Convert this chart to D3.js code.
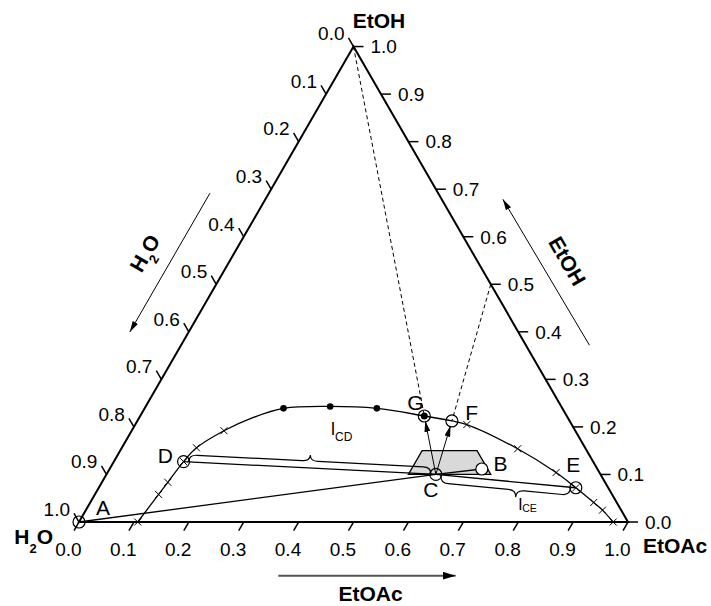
<!DOCTYPE html>
<html>
<head>
<meta charset="utf-8">
<script src="https://cdn.jsdelivr.net/npm/d3@7"></script>
<style>
body { margin: 0; background: #fff; }
text { font-family: "Liberation Sans", Arial, sans-serif; fill: #000; }
</style>
</head>
<body>
<svg id="chart" width="711" height="606"></svg>
<script>
// compositions are [EtOAc, EtOH], H2O = 1 - EtOAc - EtOH
const tickValues = [0, 0.1, 0.2, 0.3, 0.4, 0.5, 0.6, 0.7, 0.8, 0.9, 1.0];
const tickLabels = ["0.0", "0.1", "0.2", "0.3", "0.4", "0.5", "0.6", "0.7", "0.8", "0.9", "1.0"];

const binodalEtOAc = [0.107, 0.116, 0.120, 0.127, 0.136, 0.168, 0.206, 0.253, 0.336, 0.423, 0.5175, 0.573, 0.604, 0.722, 0.817, 0.869, 0.917, 0.941, 0.973];
const binodalEtOH  = [0, 0.058, 0.0835, 0.127, 0.156, 0.192, 0.219, 0.239, 0.243, 0.239, 0.223, 0.2125, 0.205, 0.154, 0.104, 0.072, 0.041, 0.025, 0];

const crossEtOAc = [0.107, 0.116, 0.120, 0.127, 0.136, 0.168, 0.604, 0.722, 0.817, 0.869, 0.917, 0.941, 0.973];
const crossEtOH  = [0, 0.058, 0.0835, 0.127, 0.156, 0.192, 0.205, 0.154, 0.104, 0.072, 0.041, 0.025, 0];

const dotEtOAc = [0.253, 0.336, 0.423];
const dotEtOH  = [0.239, 0.243, 0.239];

const pointNames = ["A", "B", "C", "D", "E", "F", "G"];
const pointEtOAc = [0, 0.678, 0.60, 0.127, 0.869, 0.573, 0.5175];
const pointEtOH  = [0, 0.1115, 0.10, 0.127, 0.072, 0.2125, 0.223];

const trapEtOAc = [0.55, 0.70, 0.65, 0.55];
const trapEtOH  = [0.10, 0.10, 0.15, 0.15];

const tieLines = [["A", "C"], ["D", "C"], ["C", "B"], ["C", "E"]];
const arrowLines = [["C", "G"], ["C", "F"]];
const dashFromEtOAc = [0, 0.5];
const dashFromEtOH  = [1, 0.5];
const dashTo = ["G", "F"];

const svg = d3.select("#chart");
const side = 549, x0 = 79, y0 = 522;
const xScale = d3.scaleLinear().domain([0, 1]).range([x0, x0 + side]);
const yScale = d3.scaleLinear().domain([0, 1]).range([y0, y0 - side * Math.sqrt(3) / 2]);
const proj = (a, e) => [xScale(a + e / 2), yScale(e)];
const pt = {};
pointNames.forEach((n, i) => pt[n] = proj(pointEtOAc[i], pointEtOH[i]));

const defs = svg.append("defs");
function marker(id, len, wid, color) {
    defs.append("marker")
        .attr("id", id)
        .attr("viewBox", `0 0 ${len} ${wid}`)
        .attr("refX", len).attr("refY", wid / 2)
        .attr("markerWidth", len).attr("markerHeight", wid)
        .attr("markerUnits", "userSpaceOnUse")
        .attr("orient", "auto")
        .append("path")
        .attr("d", `M0,0L${len},${wid / 2}L0,${wid}Z`)
        .attr("fill", color);
}
marker("head", 11, 6, "#000");
marker("headBig", 13, 8, "#000");

// shaded region
svg.append("path")
    .attr("d", d3.line()(trapEtOAc.map((a, i) => proj(a, trapEtOH[i]))) + "Z")
    .attr("fill", "#d9d9d9")
    .attr("stroke", "#000")
    .attr("stroke-width", 1.3);

// triangle
svg.append("path")
    .attr("d", d3.line()([proj(0, 0), proj(1, 0), proj(0, 1)]) + "Z")
    .attr("fill", "none")
    .attr("stroke", "#000")
    .attr("stroke-width", 2)
    .attr("stroke-linejoin", "miter");

const tickG = svg.append("g").attr("stroke", "#000").attr("stroke-width", 1.5);
const labelG = svg.append("g").attr("font-size", 19);

tickValues.forEach((v, i) => {
    // bottom (EtOAc)
    let s = proj(v, 0), e = [s[0] - 5, s[1] + 8.66];
    tickG.append("line").attr("x1", s[0]).attr("y1", s[1]).attr("x2", e[0]).attr("y2", e[1]);
    labelG.append("text").attr("x", e[0] - 5.6).attr("y", e[1] + 25.3)
        .attr("text-anchor", "middle").text(tickLabels[i]);
    // left (H2O)
    s = proj(0, 1 - v); e = [s[0] - 5, s[1] - 8.66];
    tickG.append("line").attr("x1", s[0]).attr("y1", s[1]).attr("x2", e[0]).attr("y2", e[1]);
    labelG.append("text").attr("x", e[0] - 4).attr("y", e[1] + 2.5)
        .attr("text-anchor", "end").text(tickLabels[i]);
    // right (EtOH)
    s = proj(1 - v, v); e = [s[0] + 10, s[1]];
    tickG.append("line").attr("x1", s[0]).attr("y1", s[1]).attr("x2", e[0]).attr("y2", e[1]);
    labelG.append("text").attr("x", e[0] + 7).attr("y", e[1] + 6.8)
        .attr("text-anchor", "start").text(tickLabels[i]);
});

// corner titles
const vTop = proj(0, 1), vLeft = proj(0, 0), vRight = proj(1, 0);
svg.append("text").attr("x", vTop[0] + 25.5).attr("y", vTop[1] - 18.5)
    .attr("text-anchor", "middle").attr("font-size", 21).attr("font-weight", "bold").text("EtOH");
svg.append("text").attr("x", vRight[0] + 15).attr("y", vRight[1] + 31)
    .attr("font-size", 21).attr("font-weight", "bold").text("EtOAc");
const h2o = svg.append("text").attr("x", vLeft[0] - 26).attr("y", vLeft[1] + 21.5)
    .attr("text-anchor", "end").attr("font-size", 21).attr("font-weight", "bold");
h2o.append("tspan").text("H");
h2o.append("tspan").attr("font-size", 13).attr("dy", 9.5).text("2");
h2o.append("tspan").attr("dy", -9.5).text("O");

// side arrows + titles
const lN = [-Math.sqrt(3) / 2, -0.5], rN = [Math.sqrt(3) / 2, -0.5];
const onLeft = (s, off) => { const p = proj(0, s); return [p[0] + lN[0] * off, p[1] + lN[1] * off]; };
const onRight = (s, off) => { const p = proj(1 - s, s); return [p[0] + rN[0] * off, p[1] + rN[1] * off]; };

let a0 = onLeft(0.638, 51), a1 = onLeft(0.346, 51);
svg.append("line").attr("x1", a0[0]).attr("y1", a0[1]).attr("x2", a1[0]).attr("y2", a1[1])
    .attr("stroke", "#000").attr("stroke-width", 1).attr("marker-end", "url(#head)");
let tp = onLeft(0.484, 70);
const h2oL = svg.append("text").attr("transform", `translate(${tp[0]},${tp[1]}) rotate(-60)`)
    .attr("text-anchor", "middle").attr("font-size", 21).attr("font-weight", "bold");
h2oL.append("tspan").text("H");
h2oL.append("tspan").attr("font-size", 13).attr("dy", 8).text("2");
h2oL.append("tspan").attr("dy", -8).text("O");

a0 = onRight(0.314, 55); a1 = onRight(0.623, 53);
svg.append("line").attr("x1", a0[0]).attr("y1", a0[1]).attr("x2", a1[0]).attr("y2", a1[1])
    .attr("stroke", "#000").attr("stroke-width", 1).attr("marker-end", "url(#head)");
tp = onRight(0.467, 70.5);
svg.append("text").attr("transform", `translate(${tp[0]},${tp[1]}) rotate(60)`)
    .attr("text-anchor", "middle").attr("font-size", 21).attr("font-weight", "bold").text("EtOH");

svg.append("line").attr("x1", xScale(0.363)).attr("y1", y0 + 53.7).attr("x2", xScale(0.686)).attr("y2", y0 + 53.7)
    .attr("stroke", "#555").attr("stroke-width", 2).attr("marker-end", "url(#headBig)");
svg.append("text").attr("x", xScale(0.531)).attr("y", y0 + 79)
    .attr("text-anchor", "middle").attr("font-size", 21).attr("font-weight", "bold").text("EtOAc");

// dashed construction lines
dashTo.forEach((n, i) => {
    const s = proj(dashFromEtOAc[i], dashFromEtOH[i]);
    svg.append("line").attr("x1", s[0]).attr("y1", s[1]).attr("x2", pt[n][0]).attr("y2", pt[n][1])
        .attr("stroke", "#000").attr("stroke-width", 1).attr("stroke-dasharray", "4,3");
});

// tie lines
tieLines.forEach(([p, q]) => {
    svg.append("line").attr("x1", pt[p][0]).attr("y1", pt[p][1]).attr("x2", pt[q][0]).attr("y2", pt[q][1])
        .attr("stroke", "#000").attr("stroke-width", 1.3);
});

// braces
function bracePath(p0, p1, dir, w, q, t) {
    const dx = p1[0] - p0[0], dy = p1[1] - p0[1], len = Math.hypot(dx, dy);
    const u = [dx / len, dy / len];
    const n = [-u[1] * dir, u[0] * dir];
    const P = (along, off) => [p0[0] + u[0] * along + n[0] * off, p0[1] + u[1] * along + n[1] * off];
    const r = 8, tip = t * len;
    const s = P(5, 0), f = P(len - 5, 0);
    const path = d3.path();
    path.moveTo(...s);
    path.quadraticCurveTo(...P(5, w), ...P(5 + r, w));
    path.lineTo(...P(tip - r, w));
    path.quadraticCurveTo(...P(tip, w), ...P(tip, q));
    path.quadraticCurveTo(...P(tip, w), ...P(tip + r, w));
    path.lineTo(...P(len - 5 - r, w));
    path.quadraticCurveTo(...P(len - 5, w), ...f);
    return path.toString();
}
svg.append("path").attr("d", bracePath(pt.D, pt.C, -1, 7, 13, 0.5))
    .attr("fill", "none").attr("stroke", "#000").attr("stroke-width", 1.2);
svg.append("path").attr("d", bracePath(pt.C, pt.E, 1, 8, 15, 0.58))
    .attr("fill", "none").attr("stroke", "#000").attr("stroke-width", 1.2);

const lcd = svg.append("text").attr("x", 331).attr("y", 435).attr("font-size", 18);
lcd.append("tspan").text("l");
lcd.append("tspan").attr("font-size", 12).attr("dy", 5.5).text("CD");
const lce = svg.append("text").attr("x", 518.5).attr("y", 510).attr("font-size", 17);
lce.append("tspan").text("l");
lce.append("tspan").attr("font-size", 10.5).attr("dy", 1.8).text("CE");

// binodal curve
svg.append("path")
    .attr("d", d3.line().curve(d3.curveCatmullRom.alpha(0.5))(binodalEtOAc.map((a, i) => proj(a, binodalEtOH[i]))))
    .attr("fill", "none")
    .attr("stroke", "#000")
    .attr("stroke-width", 1.3);

crossEtOAc.forEach((a, i) => {
    const p = proj(a, crossEtOH[i]);
    svg.append("path")
        .attr("d", `M${p[0] - 3.5},${p[1] - 3.5}L${p[0] + 3.5},${p[1] + 3.5}M${p[0] - 3.5},${p[1] + 3.5}L${p[0] + 3.5},${p[1] - 3.5}`)
        .attr("stroke", "#000").attr("stroke-width", 1);
});

dotEtOAc.forEach((a, i) => {
    const p = proj(a, dotEtOH[i]);
    svg.append("circle").attr("cx", p[0]).attr("cy", p[1]).attr("r", 3.3).attr("fill", "#000");
});

// arrows C -> G, C -> F
arrowLines.forEach(([p, q]) => {
    const dx = pt[q][0] - pt[p][0], dy = pt[q][1] - pt[p][1], len = Math.hypot(dx, dy);
    svg.append("line").attr("x1", pt[p][0]).attr("y1", pt[p][1])
        .attr("x2", pt[q][0] - dx / len * 5).attr("y2", pt[q][1] - dy / len * 5)
        .attr("stroke", "#000").attr("stroke-width", 1).attr("marker-end", "url(#head)");
});

// marked compositions
pointNames.forEach(n => {
    svg.append("circle").attr("cx", pt[n][0]).attr("cy", pt[n][1]).attr("r", 6)
        .attr("fill", n === "B" ? "#fff" : "none")
        .attr("stroke", "#000").attr("stroke-width", 1.2);
});
svg.append("circle").attr("cx", pt.G[0]).attr("cy", pt.G[1]).attr("r", 3.5).attr("fill", "#000");

const labelOffsets = {A: [17, -7, "start"], B: [11.6, 2, "start"], C: [-5, 23, "middle"], D: [-10.6, 1.5, "end"],
    E: [-2.7, -15.7, "middle"], F: [13.3, -1, "start"], G: [-9, -6, "middle"]};
pointNames.forEach(n => {
    const o = labelOffsets[n];
    svg.append("text").attr("x", pt[n][0] + o[0]).attr("y", pt[n][1] + o[1])
        .attr("text-anchor", o[2]).attr("font-size", 21).text(n);
});
</script>
</body>
</html>
